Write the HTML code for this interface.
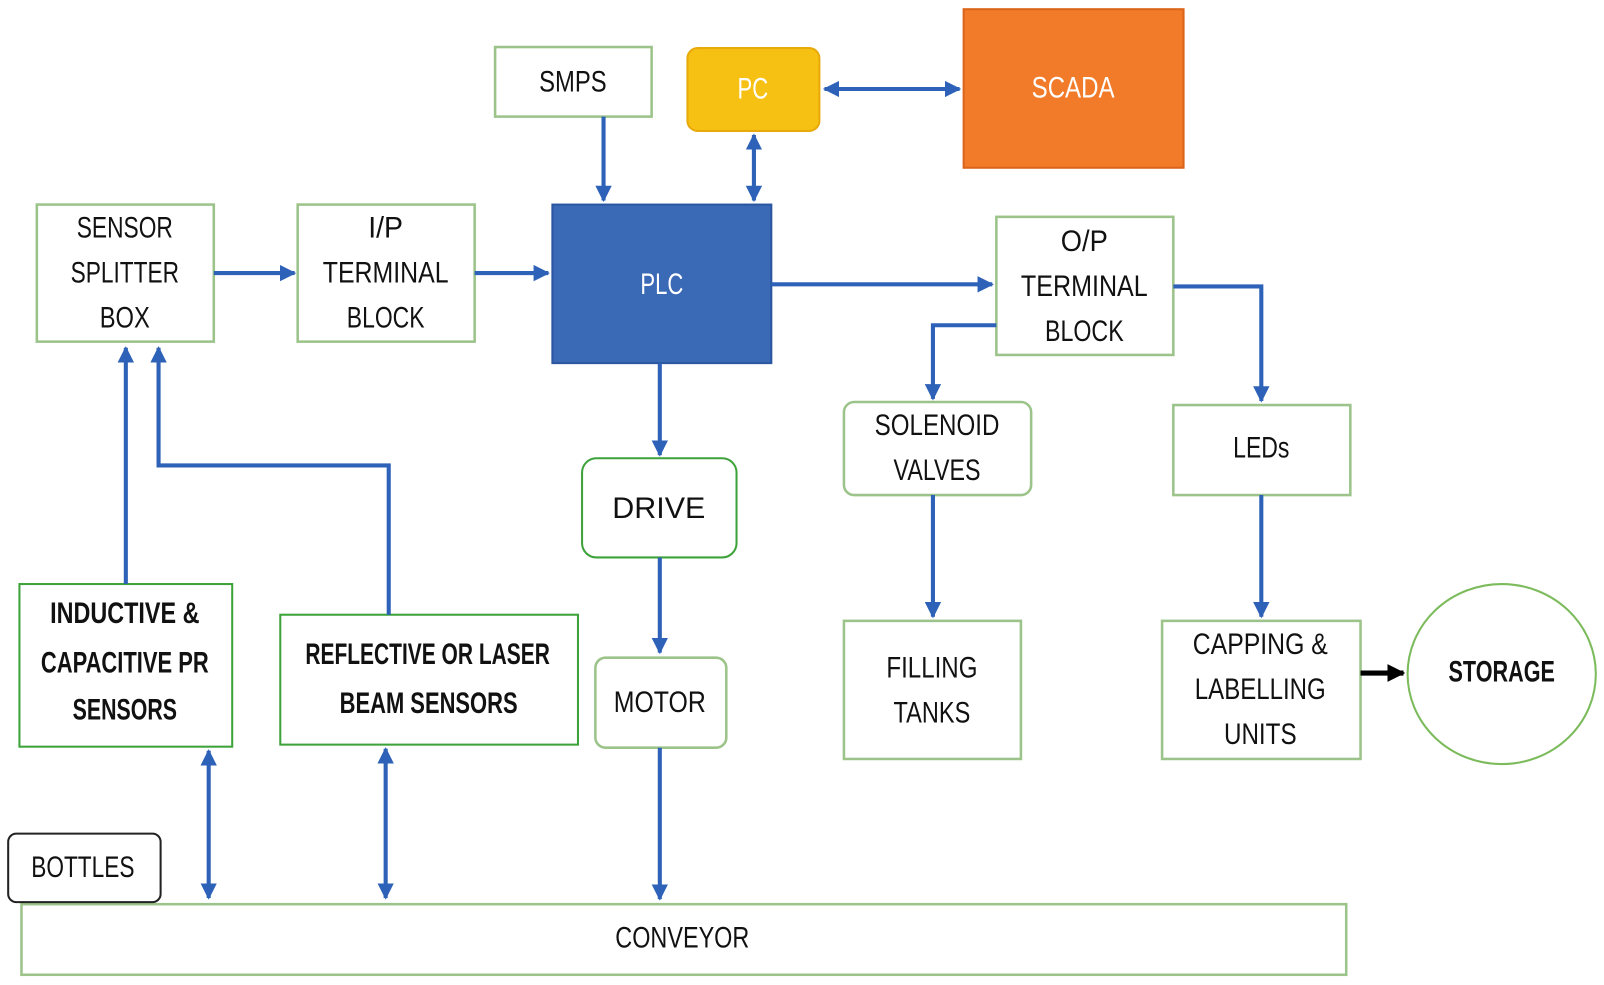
<!DOCTYPE html>
<html><head><meta charset="utf-8"><style>
html,body{margin:0;padding:0;background:#fff;}
svg{display:block}
text{font-family:"Liberation Sans",sans-serif;font-size:29px;fill:#111;text-anchor:middle;dominant-baseline:central}
.b{font-weight:bold}
.w{fill:#fff}
</style></head><body>
<svg width="1604" height="985" viewBox="0 0 1568 963" preserveAspectRatio="none" xmlns="http://www.w3.org/2000/svg">
<defs>
<marker id="a" viewBox="0 0 10 10" refX="9" refY="5" markerWidth="4" markerHeight="4" orient="auto-start-reverse"><path d="M0,0L10,5L0,10z" fill="#2E62B8"/></marker>
<marker id="k" viewBox="0 0 10 10" refX="9" refY="5" markerWidth="3.5" markerHeight="3.5" orient="auto"><path d="M0,0L10,5L0,10z" fill="#000"/></marker>
</defs>
<g fill="#fff" stroke="#9CC48A" stroke-width="2.5">
<rect x="484" y="46" width="153" height="68"/>
<rect x="36" y="200" width="173" height="134"/>
<rect x="291" y="200" width="173" height="134"/>
<rect x="974" y="212" width="173" height="135"/>
<rect x="825" y="393" width="183" height="91" rx="10"/>
<rect x="1147" y="396" width="173" height="88"/>
<rect x="825" y="607" width="173" height="135"/>
<rect x="1136" y="607" width="194" height="135"/>
<rect x="582" y="643" width="128" height="88" rx="10"/>
<rect x="21" y="884" width="1295" height="69"/>
</g>
<g fill="#fff" stroke="#3DA23A" stroke-width="2">
<rect x="19" y="571" width="208" height="159"/>
<rect x="274" y="601" width="291" height="127"/>
<rect x="569" y="448" width="151" height="97" rx="14"/>
<ellipse cx="1468" cy="659" rx="92" ry="88" stroke="#7CBB5C"/>
</g>
<rect x="8" y="815" width="149" height="67" rx="8" fill="#fff" stroke="#222" stroke-width="2"/>
<rect x="672" y="47" width="129" height="81" rx="10" fill="#F7C113" stroke="#E8A90A" stroke-width="2"/>
<rect x="942" y="9" width="215" height="155" fill="#F27B2A" stroke="#D9641A" stroke-width="2"/>
<rect x="540" y="200" width="214" height="155" fill="#3A69B6" stroke="#2B56A0" stroke-width="2"/>
<g stroke="#2E62B8" stroke-width="4" fill="none" marker-end="url(#a)">
<path d="M806 87H938" marker-start="url(#a)"/>
<path d="M737 132V196" marker-start="url(#a)"/>
<path d="M590 114V196"/>
<path d="M209 267H288"/>
<path d="M464 267H536"/>
<path d="M754 278H970"/>
<path d="M974 318H912V390"/>
<path d="M1147 280H1233V392"/>
<path d="M912 484V603"/>
<path d="M1233 484V603"/>
<path d="M645 355V445"/>
<path d="M645 545V638"/>
<path d="M645 731V879"/>
<path d="M123 571V340"/>
<path d="M380 601V455H155V340"/>
<path d="M204 734V878" marker-start="url(#a)"/>
<path d="M377 732V878" marker-start="url(#a)"/>
</g>
<path d="M1330 658H1372" stroke="#000" stroke-width="5" marker-end="url(#k)"/>
<g lengthAdjust="spacingAndGlyphs">
<text x="560" y="80" textLength="66" lengthAdjust="spacingAndGlyphs">SMPS</text>
<text x="736" y="87" class="w" textLength="30" lengthAdjust="spacingAndGlyphs">PC</text>
<text x="1049" y="86" class="w" textLength="81" lengthAdjust="spacingAndGlyphs">SCADA</text>
<text x="647" y="278" class="w" textLength="42" lengthAdjust="spacingAndGlyphs">PLC</text>
<text x="122" y="223" textLength="94" lengthAdjust="spacingAndGlyphs">SENSOR</text>
<text x="122" y="267" textLength="106" lengthAdjust="spacingAndGlyphs">SPLITTER</text>
<text x="122" y="311" textLength="49" lengthAdjust="spacingAndGlyphs">BOX</text>
<text x="377" y="223" textLength="34" lengthAdjust="spacingAndGlyphs">I/P</text>
<text x="377" y="267" textLength="123" lengthAdjust="spacingAndGlyphs">TERMINAL</text>
<text x="377" y="311" textLength="76" lengthAdjust="spacingAndGlyphs">BLOCK</text>
<text x="1060" y="236" textLength="46" lengthAdjust="spacingAndGlyphs">O/P</text>
<text x="1060" y="280" textLength="124" lengthAdjust="spacingAndGlyphs">TERMINAL</text>
<text x="1060" y="324" textLength="77" lengthAdjust="spacingAndGlyphs">BLOCK</text>
<text x="916" y="416" textLength="122" lengthAdjust="spacingAndGlyphs">SOLENOID</text>
<text x="916" y="460" textLength="85" lengthAdjust="spacingAndGlyphs">VALVES</text>
<text x="1233" y="438" textLength="55" lengthAdjust="spacingAndGlyphs">LEDs</text>
<text x="911" y="653" textLength="89" lengthAdjust="spacingAndGlyphs">FILLING</text>
<text x="911" y="697" textLength="75" lengthAdjust="spacingAndGlyphs">TANKS</text>
<text x="1232" y="630" textLength="132" lengthAdjust="spacingAndGlyphs">CAPPING &amp;</text>
<text x="1232" y="674" textLength="128" lengthAdjust="spacingAndGlyphs">LABELLING</text>
<text x="1232" y="718" textLength="71" lengthAdjust="spacingAndGlyphs">UNITS</text>
<text x="1468" y="657" class="b" textLength="104" lengthAdjust="spacingAndGlyphs">STORAGE</text>
<text x="644" y="497" textLength="91" lengthAdjust="spacingAndGlyphs">DRIVE</text>
<text x="645" y="687" textLength="90" lengthAdjust="spacingAndGlyphs">MOTOR</text>
<text x="122" y="600" class="b" textLength="146" lengthAdjust="spacingAndGlyphs">INDUCTIVE &amp;</text>
<text x="122" y="648" class="b" textLength="164" lengthAdjust="spacingAndGlyphs">CAPACITIVE PR</text>
<text x="122" y="694" class="b" textLength="102" lengthAdjust="spacingAndGlyphs">SENSORS</text>
<text x="418" y="640" class="b" textLength="239" lengthAdjust="spacingAndGlyphs">REFLECTIVE OR LASER</text>
<text x="419" y="688" class="b" textLength="174" lengthAdjust="spacingAndGlyphs">BEAM SENSORS</text>
<text x="81" y="848" textLength="101" lengthAdjust="spacingAndGlyphs">BOTTLES</text>
<text x="667" y="917" textLength="131" lengthAdjust="spacingAndGlyphs">CONVEYOR</text>
</g>
</svg>
</body></html>
